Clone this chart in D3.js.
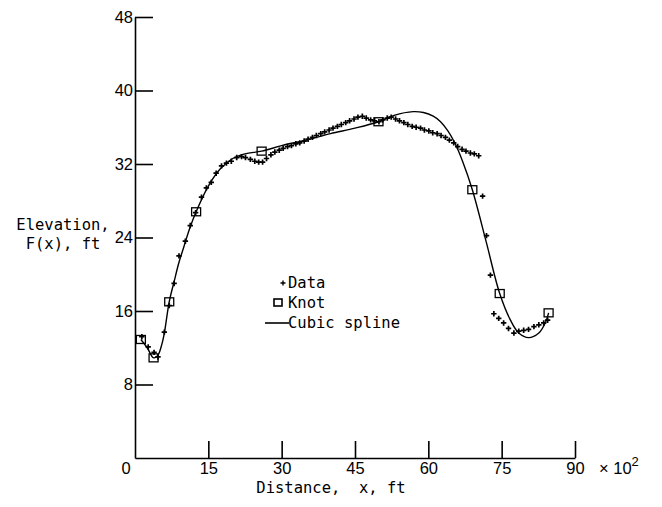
<!DOCTYPE html>
<html>
<head>
<meta charset="utf-8">
<script src="https://cdn.jsdelivr.net/npm/d3@7"></script>
<style>
body { margin: 0; background: #fff; }
.num { font-family: "Liberation Sans", Arial, sans-serif; font-size: 16.5px; }
.lab { font-family: "DejaVu Sans Mono", monospace; font-size: 15.5px; }
</style>
</head>
<body>
<svg width="662" height="507"></svg>
<script>
"use strict";

// Distance in hundreds of ft, elevation in ft.
const dataX = [1.4, 2.7, 3.9, 4.7, 6.0, 7.0, 8.0, 9.0, 10.3, 11.3, 12.4, 13.6, 14.6, 15.6, 16.6, 17.7, 18.7, 19.7, 20.8, 21.8,
    22.6, 23.6, 24.5, 25.3, 26.1, 26.9, 27.8, 28.6, 29.5, 30.3, 31.2, 32.0, 32.9, 33.7, 34.6, 35.4, 36.3, 37.1, 38.0, 38.8,
    39.7, 40.5, 41.4, 42.2, 43.1, 43.9, 44.8, 45.6, 46.5, 47.3, 48.2, 49.0, 49.9, 50.7, 51.6, 52.4, 53.3, 54.1, 55.0, 55.8,
    56.7, 57.5, 58.4, 59.2, 60.1, 60.9, 61.8, 62.6, 63.5, 64.3, 65.2, 66.0, 66.9, 67.7, 68.6, 69.4, 70.3, 71.1, 71.9, 72.7,
    73.4, 74.4, 75.4, 76.4, 77.5, 78.5, 79.5, 80.5, 81.6, 82.6, 83.6, 84.4];
const dataY = [13.2, 12.1, 11.5, 11.0, 13.7, 16.6, 19.0, 22.0, 23.6, 25.3, 26.7, 28.4, 29.4, 30.0, 31.0, 31.8, 32.1, 32.3, 32.7, 32.8,
    32.7, 32.5, 32.3, 32.2, 32.2, 32.6, 33.0, 33.3, 33.5, 33.7, 33.9, 34.0, 34.2, 34.3, 34.5, 34.7, 34.9, 35.1, 35.3, 35.5,
    35.7, 35.9, 36.1, 36.3, 36.5, 36.7, 36.9, 37.1, 37.2, 37.0, 36.8, 36.7, 36.6, 36.8, 37.0, 37.1, 36.9, 36.7, 36.5, 36.3,
    36.1, 36.0, 35.9, 35.7, 35.6, 35.4, 35.3, 35.1, 34.9, 34.6, 34.3, 33.9, 33.6, 33.4, 33.2, 33.1, 32.9, 28.5, 24.2, 19.9,
    15.7, 15.2, 14.7, 14.1, 13.6, 13.8, 13.9, 14.0, 14.3, 14.5, 14.7, 15.0];

const knotX = [1.2, 3.8, 7.0, 12.5, 25.9, 49.8, 69.0, 74.6, 84.6];
const knotY = [12.9, 10.9, 17.0, 26.8, 33.4, 36.6, 29.2, 17.9, 15.8];

// cubic spline
const splineX = [1.2, 2.5, 3.8, 4.7, 5.5, 6.0, 7.0, 8.0, 9.0, 10.0, 11.2, 12.5, 15, 17.5, 20, 22.5, 25.9, 30, 35, 40, 45,
    49.8, 53, 56.9, 59, 61, 62.5, 64, 65.5, 67, 69.0, 71.8, 74.6, 76.8, 78.5, 80.5, 82.6, 84.0, 84.6];
const splineY = [12.9, 12.0, 10.9, 11.2, 12.4, 13.6, 17.0, 19.2, 21.3, 23.0, 25.0, 26.8, 29.6, 31.5, 32.6, 33.1, 33.4, 34.0, 34.6,
    35.3, 35.9, 36.6, 37.3, 37.7, 37.6, 37.2, 36.6, 35.6, 34.2, 32.3, 29.2, 23.6, 17.9, 15.0, 13.6, 13.1, 13.6, 14.8, 15.8];

const X_TICKS = [15, 30, 45, 60, 75, 90];
const Y_TICKS = [8, 16, 24, 32, 40, 48];
const LEGEND = ["Data", "Knot", "Cubic spline"];

var svg = d3.select("svg");

const xScale = d3.scaleLinear().domain([0, 90]).range([135, 575]);
const yScale = d3.scaleLinear().domain([0, 48]).range([458, 17]);

// y axis, ticks pointing into the plot
const yAxis = svg.append("g")
    .attr("transform", `translate(${xScale(0)}, 0)`)
    .call(d3.axisLeft(yScale).tickValues(Y_TICKS).tickSize(-18).tickSizeOuter(0).tickPadding(2));

const xAxis = svg.append("g")
    .attr("transform", `translate(0, ${yScale(0)})`)
    .call(d3.axisBottom(xScale).tickValues(X_TICKS).tickSize(-17).tickSizeOuter(0).tickPadding(4));

[xAxis, yAxis].forEach(g => {
    g.attr("font-size", null).attr("font-family", null);
    g.selectAll("path, line").attr("stroke", "#000").attr("stroke-width", 1.6);
    g.selectAll("text").attr("class", "num").attr("fill", "#000");
});

// origin label and the x multiplier
svg.append("text").attr("class", "num")
    .attr("x", xScale(0) - 9).attr("y", yScale(0) + 16)
    .attr("text-anchor", "middle").text("0");
svg.append("text").attr("class", "num")
    .attr("x", xScale(90) + 24).attr("y", yScale(0) + 16)
    .text("× 10")
    .append("tspan").attr("dy", -8).attr("font-size", 13).text("2");

svg.append("text").attr("class", "lab")
    .attr("x", 331).attr("y", 493)
    .attr("text-anchor", "middle")
    .attr("xml:space", "preserve")
    .text("Distance,  x, ft");

svg.append("text").attr("class", "lab")
    .attr("text-anchor", "middle")
    .selectAll("tspan")
    .data(["Elevation,", "F(x), ft"])
    .join("tspan")
    .attr("x", 63)
    .attr("y", (d, i) => 230 + i * 19)
    .text(d => d);

// spline
const line = d3.line()
    .x((d, i) => xScale(splineX[i]))
    .y(d => yScale(d))
    .curve(d3.curveCatmullRom.alpha(0.5));

svg.append("path")
    .datum(splineY)
    .attr("d", line)
    .attr("fill", "none")
    .attr("stroke", "#000")
    .attr("stroke-width", 1.4);

// data crosses
const cross = "M-2.7,0H2.7M0,-2.7V2.7";
svg.append("g").selectAll("path")
    .data(dataY)
    .join("path")
    .attr("transform", (d, i) => `translate(${xScale(dataX[i])}, ${yScale(d)})`)
    .attr("d", cross)
    .attr("stroke", "#000")
    .attr("stroke-width", 1.7);

// knots
svg.append("g").selectAll("rect")
    .data(knotY)
    .join("rect")
    .attr("x", (d, i) => xScale(knotX[i]) - 4.5)
    .attr("y", d => yScale(d) - 4)
    .attr("width", 9)
    .attr("height", 8)
    .attr("fill", "none")
    .attr("stroke", "#000")
    .attr("stroke-width", 1.3);

// legend
const legend = svg.append("g");
legend.selectAll("text")
    .data(LEGEND)
    .join("text")
    .attr("class", "lab")
    .attr("x", 288)
    .attr("y", (d, i) => 288 + i * 20)
    .text(d => d);
legend.append("path")
    .attr("transform", "translate(283, 283)")
    .attr("d", "M-2.5,0H2.5M0,-2.5V2.5")
    .attr("stroke", "#000").attr("stroke-width", 1.4);
legend.append("rect")
    .attr("x", 274).attr("y", 299).attr("width", 8).attr("height", 7)
    .attr("fill", "none").attr("stroke", "#000").attr("stroke-width", 1.6);
legend.append("line")
    .attr("x1", 265).attr("x2", 289).attr("y1", 323).attr("y2", 323)
    .attr("stroke", "#000").attr("stroke-width", 1.6);
</script>
</body>
</html>
